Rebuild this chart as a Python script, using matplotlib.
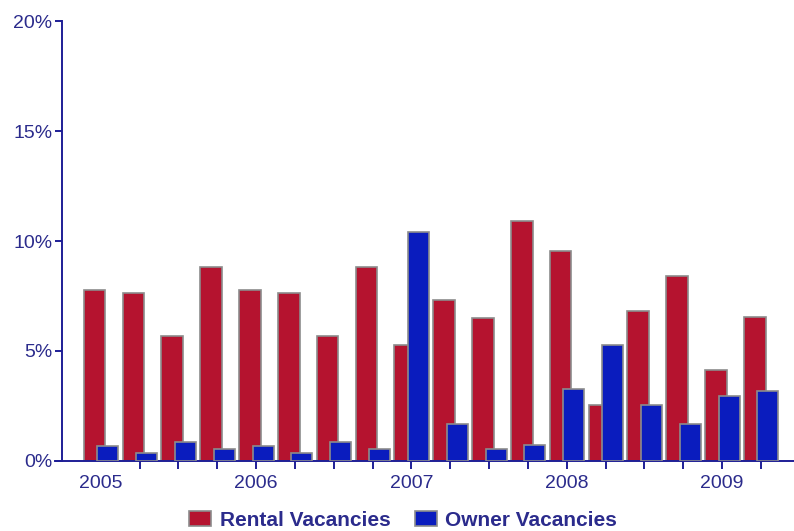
import numpy as np
import matplotlib
matplotlib.use("Agg")
import matplotlib.pyplot as plt
from matplotlib.ticker import FuncFormatter

# quarterly vacancy rates, 2005 Q1 .. 2009 Q2 (percent)
quarters = ["2005", "", "", "", "2006", "", "", "", "2007", "", "", "",
            "2008", "", "", "", "2009", ""]
rental = [7.77, 7.62, 5.68, 8.82, 7.77, 7.62, 5.68, 8.82, 5.27,
          7.32, 6.49, 10.92, 9.56, 2.55, 6.82, 8.42, 4.14, 6.56]
owner = [0.68, 0.38, 0.85, 0.53, 0.68, 0.38, 0.85, 0.53, 10.42,
         1.68, 0.55, 0.73, 3.27, 5.27, 2.55, 1.68, 2.95, 3.18]

RED = "#B5132F"
BLUE = "#0A1CBE"
EDGE = "#8C8C8C"
TXT = "#2B2B8C"
AXC = "#1E1E96"

plt.rcParams["font.family"] = ["Liberation Sans", "DejaVu Sans"]

fig = plt.figure(figsize=(7.94, 5.31), dpi=100)
ax = fig.add_axes([0.078, 0.132, 0.922, 0.828])

x = np.arange(len(rental))
ax.bar(x - 0.16, rental, width=0.56, color=RED, edgecolor=EDGE,
       linewidth=1.2, label="Rental Vacancies", zorder=2)
ax.bar(x + 0.18, owner, width=0.54, color=BLUE, edgecolor=EDGE,
       linewidth=1.2, label="Owner Vacancies", zorder=3)

ax.set_xlim(-1.0, len(rental) - 0.15)
ax.set_ylim(0, 20)
ax.set_yticks([0, 5, 10, 15, 20])
ax.yaxis.set_major_formatter(FuncFormatter(lambda v, p: "%d%%" % v))
ax.set_xticks(x)
ax.set_xticklabels(quarters)
ax.xaxis.get_major_ticks()[0].tick1line.set_visible(False)

for s in ["top", "right"]:
    ax.spines[s].set_visible(False)
for s in ["left", "bottom"]:
    ax.spines[s].set_color(AXC)
    ax.spines[s].set_linewidth(1.4)
# baseline pokes out a little to the left of the y axis
ax.plot([-0.01, 0], [0, 0], transform=ax.transAxes, color=AXC,
        linewidth=1.4, clip_on=False)

ax.tick_params(axis="y", colors=AXC, labelcolor=TXT, labelsize=14,
               length=5, width=1.4, pad=2)
ax.tick_params(axis="x", colors=AXC, labelcolor=TXT, labelsize=14,
               length=6, width=1.4, pad=4)

leg = fig.legend(loc="center", bbox_to_anchor=(0.508, 0.02), ncol=2,
                 frameon=False, handlelength=1.05, handleheight=0.75,
                 handletextpad=0.4, columnspacing=1.2,
                 prop={"weight": "bold", "size": 15})
for t in leg.get_texts():
    t.set_color(TXT)

fig.savefig("out.png", dpi=100)
